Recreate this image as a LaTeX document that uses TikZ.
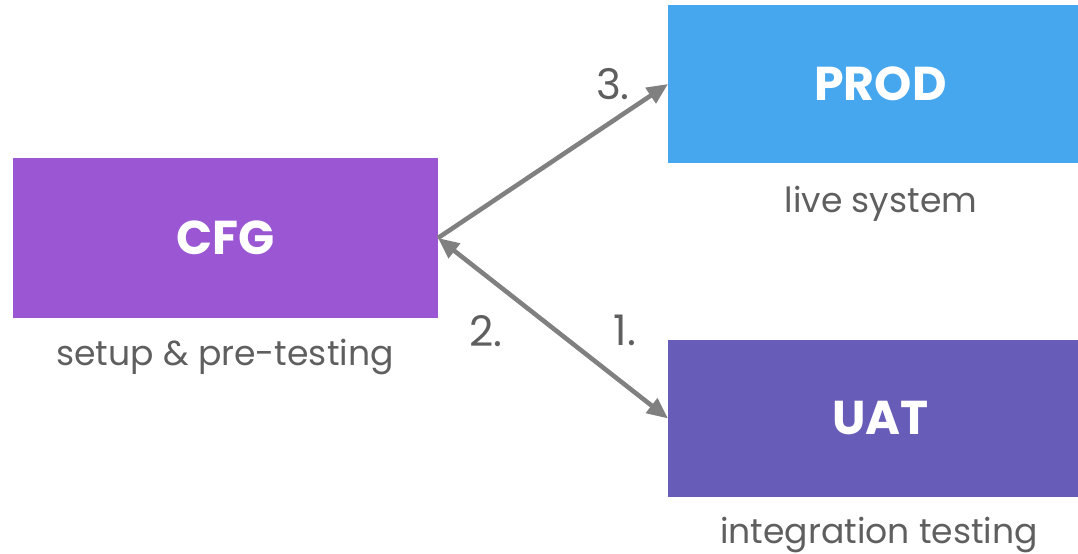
\documentclass[tikz,border=0pt]{standalone}
\usepackage{fontspec}
\setmainfont{Poppins}
\usetikzlibrary{arrows.meta}
\definecolor{cfgcolor}{HTML}{9B57D3}
\definecolor{prodcolor}{HTML}{46A7EE}
\definecolor{uatcolor}{HTML}{675DB9}
\definecolor{linkgray}{HTML}{808080}
\definecolor{notegray}{HTML}{5F5F5F}
\tikzset{
  stage/.style={inner sep=0pt,outer sep=0pt,text=white,
    font=\fontsize{27}{30}\selectfont\bfseries,
    minimum width=8.5cm,minimum height=3.16cm},
  note/.style={inner sep=0pt,text=notegray,font=\fontsize{19.7}{22}\selectfont},
  stepnum/.style={inner sep=0pt,text=notegray,font=\fontsize{24}{26}\selectfont},
  link/.style={draw=linkgray,line width=2.6pt,
    arrows={-Triangle[length=0.42cm,width=0.36cm]}}
}

\begin{document}
\begin{tikzpicture}[x=0.02cm,y=-0.02cm]
  \useasboundingbox (0,0) rectangle (1078,554);
  \node[stage,fill=cfgcolor,minimum height=3.2cm] (cfg) at (225.5,238) {CFG};
  \node[stage,fill=prodcolor] (prod) at (880.5,84) {PROD};
  \node[stage,fill=uatcolor,minimum height=3.14cm] (uat) at (880.5,418.5) {UAT};
  \node[note] (cfgnote) at (225,357) {setup \& pre-testing};
  \node[note] (prodnote) at (881,204) {live system};
  \node[note] (uatnote) at (879,535) {integration testing};
  % arrows
  \draw[link] (cfg.east) -- (prod.west);
  \draw[link,arrows={Triangle[length=0.42cm,width=0.36cm]-Triangle[length=0.42cm,width=0.36cm]}] (cfg.east) -- (uat.west);
  \node[stepnum] (three) at (613,84) {3.};
  \node[stepnum] (two) at (486,331) {2.};
  \node[stepnum] (one) at (625,330) {1.};
\end{tikzpicture}
\end{document}
